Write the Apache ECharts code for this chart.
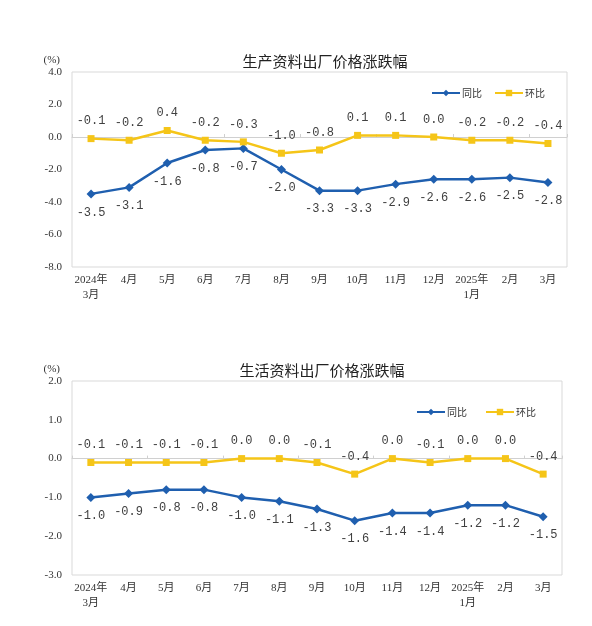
<!DOCTYPE html>
<html>
<head>
<meta charset="utf-8">
<script src="https://cdn.jsdelivr.net/npm/echarts@6/dist/echarts.min.js"></script>
<style>
  html, body { margin: 0; padding: 0; background: #fff; }
  #main { width: 592px; height: 626px; }
</style>
</head>
<body>
<div id="main"></div>
<script>
// 月份
var months = ['2024年\n3月', '4月', '5月', '6月', '7月', '8月', '9月', '10月', '11月', '12月', '2025年\n1月', '2月', '3月'];

// 生产资料
var prodYoY = [-3.5, -3.1, -1.6, -0.8, -0.7, -2.0, -3.3, -3.3, -2.9, -2.6, -2.6, -2.5, -2.8];
var prodMoM = [-0.1, -0.2, 0.4, -0.2, -0.3, -1.0, -0.8, 0.1, 0.1, 0.0, -0.2, -0.2, -0.4];

// 生活资料
var lifeYoY = [-1.0, -0.9, -0.8, -0.8, -1.0, -1.1, -1.3, -1.6, -1.4, -1.4, -1.2, -1.2, -1.5];
var lifeMoM = [-0.1, -0.1, -0.1, -0.1, 0.0, 0.0, -0.1, -0.4, 0.0, -0.1, 0.0, 0.0, -0.4];

var BLUE = '#1f5faf', YELLOW = '#f5c518';
var serif = '"Liberation Serif", "Noto Sans CJK SC", serif';

var myChart = echarts.init(document.getElementById('main'), null, {renderer: 'canvas'});

function fmt(p) { return Number(p.value).toFixed(1); }

// 底部月份标签（不画轴线）
function labelAxis(gi) {
    return {
        type: 'category', gridIndex: gi, data: months, boundaryGap: true, position: 'bottom',
        axisLine: {show: false, onZero: false}, axisTick: {show: false},
        axisLabel: {fontFamily: serif, fontSize: 11, color: '#333', lineHeight: 15, margin: 6, interval: 0}
    };
}
// 0 值处的横线和刻度
function zeroAxis(gi) {
    return {
        type: 'category', gridIndex: gi, data: months, boundaryGap: true, position: 'bottom',
        axisLine: {show: true, onZero: true, lineStyle: {color: '#d0d0d0', width: 1}},
        axisTick: {show: true, inside: true, length: 3, lineStyle: {color: '#d0d0d0'}},
        axisLabel: {show: false}, splitLine: {show: false}
    };
}
function valAxis(gi, min, max, step) {
    return {
        type: 'value', gridIndex: gi, min: min, max: max, interval: step,
        name: '(%)', nameLocation: 'end', nameGap: 6,
        nameTextStyle: {fontFamily: serif, fontSize: 11, color: '#333', align: 'right', padding: [0, 12, 0, 0]},
        axisLine: {show: false}, axisTick: {show: false}, splitLine: {show: false},
        axisLabel: {fontFamily: serif, fontSize: 11, color: '#333', margin: 10,
            formatter: function (v) { return v.toFixed(1); }}
    };
}
function lineSeries(name, data, xi, yi, color, symbol, size, pos) {
    return {
        name: name, type: 'line', data: data, xAxisIndex: xi, yAxisIndex: yi,
        symbol: symbol, symbolSize: size, color: color,
        lineStyle: {color: color, width: 2.5}, itemStyle: {color: color},
        label: {show: true, position: pos, distance: 8, formatter: fmt,
            fontFamily: '"Liberation Mono", monospace', fontSize: 12, color: '#404040'},
        animation: false
    };
}

var option = {
    backgroundColor: '#fff',
    animation: false,
    title: [
        {text: '生产资料出厂价格涨跌幅', left: 320, top: 49, textAlign: 'center',
            textStyle: {fontFamily: '"Noto Sans CJK SC"', fontSize: 15, fontWeight: 'normal', color: '#222'}},
        {text: '生活资料出厂价格涨跌幅', left: 317, top: 358, textAlign: 'center',
            textStyle: {fontFamily: '"Noto Sans CJK SC"', fontSize: 15, fontWeight: 'normal', color: '#222'}}
    ],
    legend: [
        {left: 426, top: 83, itemWidth: 28, itemHeight: 8, itemGap: 12, data: ['同比', '环比'],
            textStyle: {fontFamily: '"Noto Sans CJK SC"', fontSize: 10, color: '#333', padding: [0, 0, 0, -3]}},
        {left: 411, top: 402, itemWidth: 28, itemHeight: 8, itemGap: 18, data: ['同比', '环比'],
            textStyle: {fontFamily: '"Noto Sans CJK SC"', fontSize: 10, color: '#333', padding: [0, 0, 0, -3]}}
    ],
    grid: [
        {left: 72, top: 72, right: 25, height: 195, show: true, borderColor: '#d9d9d9', borderWidth: 1},
        {left: 72, top: 381, right: 30, height: 194, show: true, borderColor: '#d9d9d9', borderWidth: 1}
    ],
    xAxis: [labelAxis(0), zeroAxis(0), labelAxis(1), zeroAxis(1)],
    yAxis: [valAxis(0, -8, 4, 2), valAxis(1, -3, 2, 1)],
    series: [
        lineSeries('同比', prodYoY, 0, 0, BLUE, 'diamond', 9, 'bottom'),
        lineSeries('环比', prodMoM, 0, 0, YELLOW, 'rect', 7, 'top'),
        lineSeries('同比', lifeYoY, 2, 1, BLUE, 'diamond', 9, 'bottom'),
        lineSeries('环比', lifeMoM, 2, 1, YELLOW, 'rect', 7, 'top')
    ]
};

myChart.setOption(option);
</script>
</body>
</html>
